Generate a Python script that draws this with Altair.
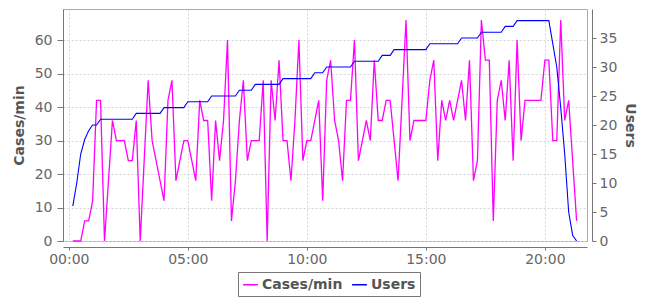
import altair as alt
import pandas as pd

# sample index (one sample every 10 seconds)
sample_index = list(range(1, 129))

cases_per_min = [
    0, 0, 0, 6, 6, 12, 42, 42, 0, 18,
    36, 30, 30, 30, 24, 24, 36, 0, 24, 48,
    30, 24, 18, 12, 42, 48, 18, 24, 30, 30,
    24, 18, 42, 36, 36, 12, 36, 24, 36, 60,
    6, 18, 36, 48, 24, 30, 30, 30, 48, 0,
    48, 36, 54, 30, 30, 18, 36, 60, 24, 30,
    30, 36, 42, 12, 48, 54, 36, 30, 18, 42,
    42, 60, 24, 30, 36, 30, 54, 36, 36, 42,
    42, 30, 18, 42, 66, 30, 36, 36, 36, 36,
    48, 54, 24, 42, 36, 42, 36, 42, 48, 36,
    54, 18, 24, 66, 54, 54, 6, 42, 48, 36,
    54, 24, 60, 30, 42, 42, 42, 42, 42, 54,
    54, 30, 30, 66, 36, 42, 24, 6,
]

users = [
    6, 10, 15, 17.5, 19, 20, 20, 21, 21, 21,
    21, 21, 21, 21, 21, 21, 22, 22, 22, 22,
    22, 22, 22, 23, 23, 23, 23, 23, 23, 24,
    24, 24, 24, 24, 24, 25, 25, 25, 25, 25,
    25, 25, 26, 26, 26, 26, 27, 27, 27, 27,
    27, 27, 27, 28, 28, 28, 28, 28, 28, 28,
    28, 29, 29, 29, 30, 30, 30, 30, 30, 30,
    30, 31, 31, 31, 31, 31, 31, 31, 32, 32,
    32, 33, 33, 33, 33, 33, 33, 33, 33, 33,
    34, 34, 34, 34, 34, 34, 34, 34, 35, 35,
    35, 35, 35, 36, 36, 36, 36, 36, 36, 37,
    37, 37, 38, 38, 38, 38, 38, 38, 38, 38,
    38, 34, 30, 23, 15, 5, 1, 0,
]

x_tick_minutes = [0, 5, 10, 15, 20]
left_ticks = [0, 10, 20, 30, 40, 50, 60]
right_ticks = [0, 5, 10, 15, 20, 25, 30, 35]
series_names = ["Cases/min", "Users"]
series_colors = ["#ff00ff", "#0000ff"]

minutes = [i * 10 / 60 for i in sample_index]
df = pd.concat([
    pd.DataFrame({"minute": minutes, "value": cases_per_min, "series": series_names[0]}),
    pd.DataFrame({"minute": minutes, "value": users, "series": series_names[1]}),
], ignore_index=True)

FONT = "DejaVu Sans"
LABEL_COLOR = "#666666"
TITLE_COLOR = "#555555"
AXIS_COLOR = "#777777"
GRID_COLOR = "#d4d4d4"

x_enc = alt.X(
    "minute:Q",
    scale=alt.Scale(domain=[-0.244, 21.77], nice=False, zero=False),
    axis=alt.Axis(
        values=x_tick_minutes,
        labelExpr="(datum.value < 10 ? '0' : '') + datum.value + ':00'",
        title=None,
        grid=True,
        gridDash=[2, 2],
        gridColor=GRID_COLOR,
        offset=6,
        domainColor=AXIS_COLOR,
        tickColor=AXIS_COLOR,
        tickSize=3,
        labelFontSize=14,
        labelColor=LABEL_COLOR,
        labelFont=FONT,
        labelPadding=2,
    ),
)

color_enc = alt.Color(
    "series:N",
    scale=alt.Scale(domain=series_names, range=series_colors),
    legend=alt.Legend(
        title=None,
        orient="none",
        legendX=175,
        legendY=263,
        direction="horizontal",
        symbolType="stroke",
        symbolSize=220,
        symbolStrokeWidth=1.5,
        labelFontSize=14,
        labelFontWeight="bold",
        labelColor=TITLE_COLOR,
        labelFont=FONT,
        labelOffset=3,
        columnPadding=6,
        padding=4,
        strokeColor="#777777",
        fillColor="white",
    ),
)

base = alt.Chart(df)

cases_line = base.transform_filter(
    alt.datum.series == series_names[0]
).mark_line(strokeWidth=1.3).encode(
    x=x_enc,
    y=alt.Y(
        "value:Q",
        scale=alt.Scale(domain=[0, 69.3], nice=False),
        axis=alt.Axis(
            values=left_ticks,
            title="Cases/min",
            titleFontSize=14,
            titleFontWeight="bold",
            titleColor=TITLE_COLOR,
            titleFont=FONT,
            titlePadding=8,
            grid=True,
            gridDash=[2, 2],
            gridColor=GRID_COLOR,
            offset=0,
            domainColor=AXIS_COLOR,
            tickColor=AXIS_COLOR,
            tickSize=6,
            labelFontSize=14,
            labelColor=LABEL_COLOR,
            labelFont=FONT,
            labelPadding=5,
        ),
    ),
    color=color_enc,
)

users_line = base.transform_filter(
    alt.datum.series == series_names[1]
).mark_line(strokeWidth=1.1).encode(
    x=x_enc,
    y=alt.Y(
        "value:Q",
        scale=alt.Scale(domain=[0, 40.0], nice=False),
        axis=alt.Axis(
            orient="right",
            values=right_ticks,
            title="Users",
            titleFontSize=14,
            titleFontWeight="bold",
            titleColor=TITLE_COLOR,
            titleFont=FONT,
            titlePadding=6,
            grid=False,
            offset=5,
            domainColor=AXIS_COLOR,
            tickColor=AXIS_COLOR,
            tickSize=4,
            labelFontSize=14,
            labelColor=LABEL_COLOR,
            labelFont=FONT,
            labelPadding=3,
        ),
    ),
    color=color_enc,
)

chart = (
    alt.layer(cases_line, users_line)
    .resolve_scale(y="independent")
    .properties(
        width=524,
        height=232,
        autosize=alt.AutoSizeParams(type="none"),
        padding={"left": 63, "top": 9, "right": 63, "bottom": 59},
        background="white",
    )
    .configure_view(stroke="#aaaaaa", strokeWidth=1)
)

chart.save("out.html", embed_options={"renderer": "svg", "actions": False})
